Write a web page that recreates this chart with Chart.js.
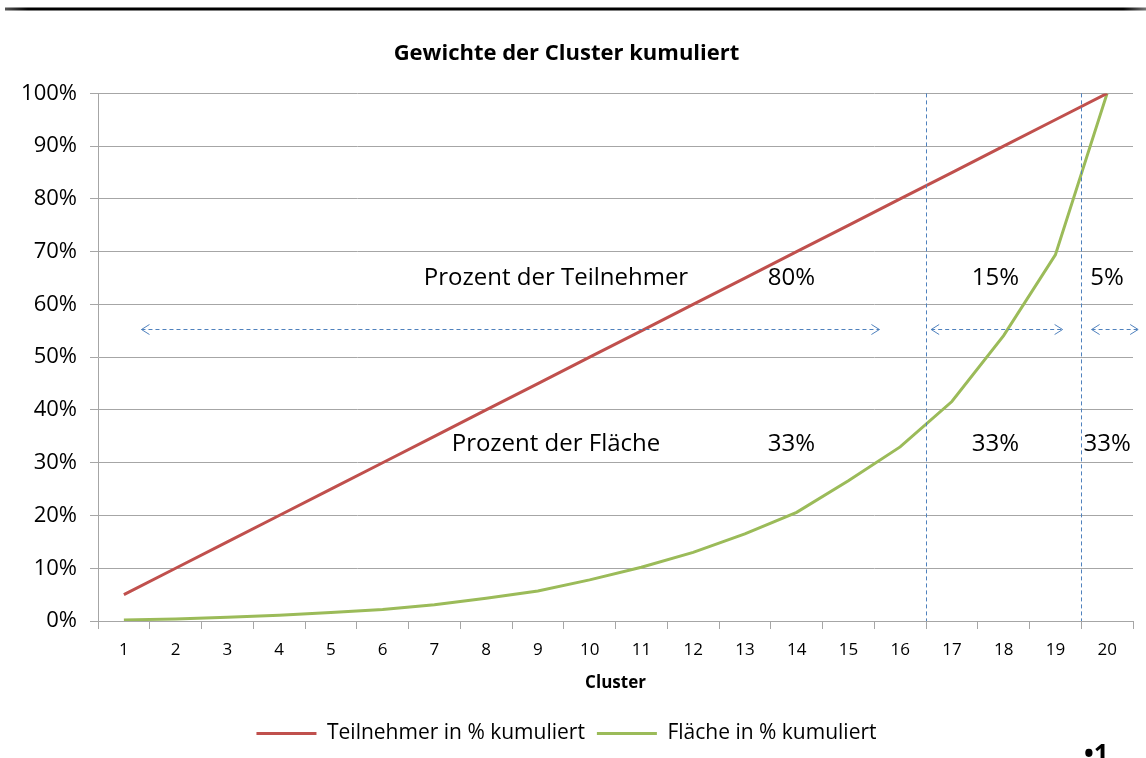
<!DOCTYPE html>
<html>
<head>
<meta charset="utf-8">
<script src="https://cdn.jsdelivr.net/npm/chart.js@4/dist/chart.umd.min.js"></script>
<style>
  html, body { margin: 0; padding: 0; background: #fff; }
  #wrap { width: 1146px; height: 758px; position: relative; }
</style>
</head>
<body>
<div id="wrap"><canvas id="miGrafico"></canvas></div>
<script>
// Daten
const cluster = ['1','2','3','4','5','6','7','8','9','10','11','12','13','14','15','16','17','18','19','20'];
const teilnehmer = [5,10,15,20,25,30,35,40,45,50,55,60,65,70,75,80,85,90,95,100];
const flaeche = [0.2,0.4,0.7,1.1,1.6,2.2,3.1,4.3,5.7,7.8,10.2,13.0,16.5,20.6,26.6,33.0,41.6,54.1,69.4,100];
const yTicks = [0,10,20,30,40,50,60,70,80,90,100];

// Beschriftungen im Diagramm (x als Kategorie-Index, y in %)
const trennlinien = [15.5, 18.5];
const pfeile = [[0.34, 14.6], [15.6, 18.14], [18.7, 19.6]];
const pfeilY = 55.3;
const texte = [
  ['Prozent der Teilnehmer', 8.35, 65],
  ['80%', 12.9, 65],
  ['15%', 16.84, 65],
  ['5%', 19.0, 65],
  ['Prozent der Fläche', 8.35, 33.5],
  ['33%', 12.9, 33.5],
  ['33%', 16.84, 33.5],
  ['33%', 19.0, 33.5]
];

const FONT = "'Open Sans', sans-serif";

const annotierung = {
  id: 'annotierung',
  beforeDraw(chart) {
    const c = chart.ctx;
    // schwarze Linie oben
    const g = c.createLinearGradient(5, 0, 1146, 0);
    g.addColorStop(0, '#555');
    g.addColorStop(0.02, '#000');
    g.addColorStop(0.98, '#000');
    g.addColorStop(1, '#777');
    c.save();
    c.strokeStyle = g;
    c.lineWidth = 3;
    c.beginPath();
    c.moveTo(5, 9);
    c.lineTo(1146, 9);
    c.stroke();
    c.restore();
  },
  afterDatasetsDraw(chart) {
    const c = chart.ctx;
    const xs = chart.scales.x, ys = chart.scales.y;
    const area = chart.chartArea;
    c.save();
    c.strokeStyle = '#4F81BD';
    c.lineWidth = 1;
    c.setLineDash([4, 3]);
    for (let t of trennlinien) {
      const px = Math.round(xs.getPixelForValue(t)) + 0.5;
      c.beginPath();
      c.moveTo(px, area.top);
      c.lineTo(px, area.bottom);
      c.stroke();
    }
    const py = Math.round(ys.getPixelForValue(pfeilY)) + 0.5;
    for (let p of pfeile) {
      const x1 = xs.getPixelForValue(p[0]);
      const x2 = xs.getPixelForValue(p[1]);
      c.setLineDash([4, 3]);
      c.beginPath();
      c.moveTo(x1, py);
      c.lineTo(x2, py);
      c.stroke();
      c.setLineDash([]);
      c.beginPath();
      c.moveTo(x1 + 8, py - 5);
      c.lineTo(x1, py);
      c.lineTo(x1 + 8, py + 5);
      c.moveTo(x2 - 8, py - 5);
      c.lineTo(x2, py);
      c.lineTo(x2 - 8, py + 5);
      c.stroke();
    }
    c.setLineDash([]);
    c.fillStyle = '#000';
    c.font = '24px ' + FONT;
    c.textAlign = 'center';
    c.textBaseline = 'middle';
    for (let t of texte) {
      c.fillText(t[0], xs.getPixelForValue(t[1]), ys.getPixelForValue(t[2]));
    }
    // abgeschnittene Seitenzahl unten rechts
    c.font = 'bold 26px ' + FONT;
    c.textAlign = 'left';
    c.textBaseline = 'top';
    c.fillText('•1', 1084, 743);
    c.restore();
  }
};

$ = (s) => document.querySelector(s);

const grafico = new Chart($('#miGrafico'), {
  type: 'line',
  data: {
    labels: cluster,
    datasets: [
      {
        label: 'Teilnehmer in % kumuliert',
        data: teilnehmer,
        borderColor: '#C0504D',
        backgroundColor: '#C0504D',
        borderWidth: 3,
        pointRadius: 0,
        tension: 0
      },
      {
        label: 'Fläche in % kumuliert',
        data: flaeche,
        borderColor: '#9BBB59',
        backgroundColor: '#9BBB59',
        borderWidth: 3,
        pointRadius: 0,
        tension: 0
      }
    ]
  },
  options: {
    responsive: true,
    maintainAspectRatio: false,
    animation: false,
    layout: { padding: { top: 0, left: 0, right: 13, bottom: 4 } },
    plugins: {
      title: {
        display: true,
        text: 'Gewichte der Cluster kumuliert',
        color: '#000',
        font: { family: FONT, size: 22, weight: 'bold' },
        padding: { top: 41, bottom: 26 }
      },
      legend: {
        position: 'bottom',
        labels: {
          color: '#000',
          font: { family: FONT, size: 21 },
          usePointStyle: true,
          pointStyle: 'line',
          pointStyleWidth: 60,
          padding: 12
        }
      },
      tooltip: { enabled: false }
    },
    scales: {
      x: {
        offset: true,
        grid: {
          offset: true,
          drawOnChartArea: false,
          drawTicks: true,
          tickLength: 8,
          color: '#A6A6A6'
        },
        border: { color: '#A6A6A6', width: 1 },
        ticks: {
          color: '#000',
          font: { family: FONT, size: 17 },
          padding: 11,
          maxRotation: 0,
          autoSkip: false
        },
        title: {
          display: true,
          text: 'Cluster',
          color: '#000',
          font: { family: FONT, size: 17, weight: 'bold' },
          padding: { top: 22, bottom: 18 }
        },
        afterFit: (s) => { s.height = 90; }
      },
      y: {
        min: 0,
        max: 100,
        afterBuildTicks: (s) => { s.ticks = yTicks.map(v => ({ value: v })); },
        grid: {
          color: '#A6A6A6',
          tickLength: 8
        },
        border: { color: '#A6A6A6', width: 1 },
        ticks: {
          color: '#000',
          font: { family: FONT, size: 22 },
          padding: 13,
          callback: (v) => v + '%'
        },
        afterFit: (s) => { s.width = 98; }
      }
    }
  },
  plugins: [annotierung]
});
</script>
</body>
</html>
